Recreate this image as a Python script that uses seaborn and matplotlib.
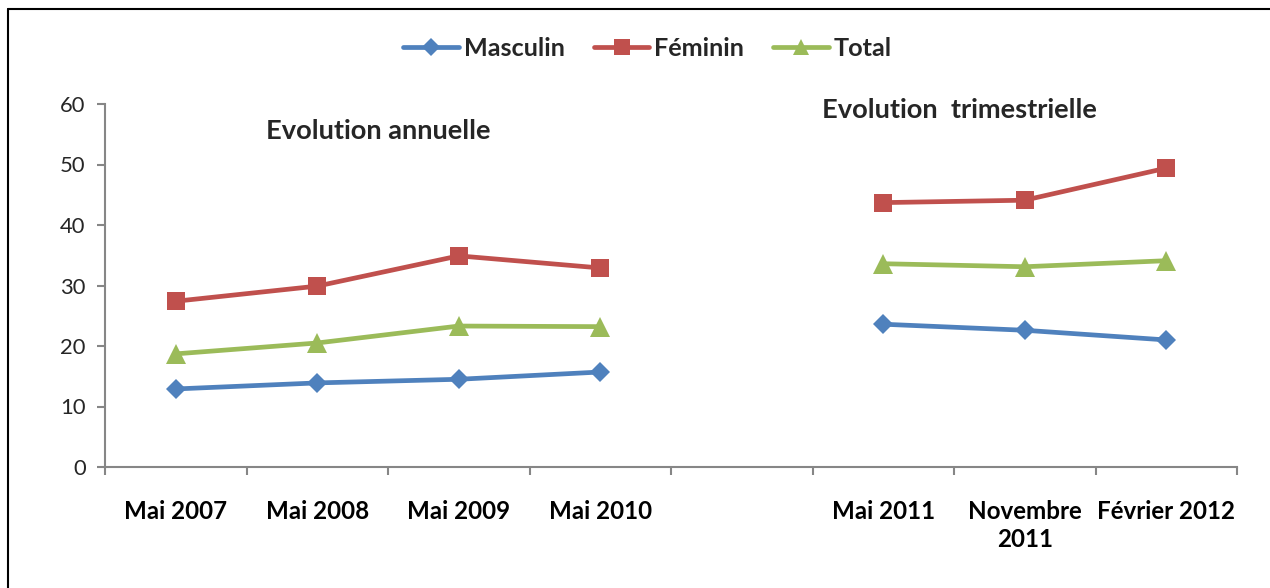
import numpy as np
import pandas as pd
import matplotlib
matplotlib.use("Agg")
import matplotlib.pyplot as plt
from matplotlib.lines import Line2D
import seaborn as sns

# ─── DATA ───────────────────────────────────────────────────────────────────
categories = ["Mai 2007", "Mai 2008", "Mai 2009", "Mai 2010", "",
              "Mai 2011", "Novembre\n2011", "Février 2012"]
masculin = [12.9, 13.9, 14.5, 15.7, np.nan, 23.6, 22.6, 21.0]
feminin = [27.4, 29.9, 34.9, 32.9, np.nan, 43.7, 44.1, 49.4]
total = [18.7, 20.5, 23.3, 23.2, np.nan, 33.6, 33.1, 34.1]
periodes = ["annuelle"] * 5 + ["trimestrielle"] * 3

SERIES = {"Masculin": masculin, "Féminin": feminin, "Total": total}
COLORS = {"Masculin": "#4F81BD", "Féminin": "#C0504D", "Total": "#9BBB59"}
MARKERS = {"Masculin": "D", "Féminin": "s", "Total": "^"}
MSIZE = {"D": 10.5, "s": 13.5, "^": 14.0}

rows = []
for name, vals in SERIES.items():
    for i, v in enumerate(vals):
        rows.append({"pos": i, "valeur": v, "serie": name, "periode": periodes[i]})
df = pd.DataFrame(rows).dropna()

# ─── STYLE ──────────────────────────────────────────────────────────────────
sns.set_style("white")
plt.rcParams["font.family"] = ["Lato", "DejaVu Sans"]
GRAY = "#868686"

fig = plt.figure(figsize=(12.7, 5.88), dpi=100)
ax = fig.add_axes([105 / 1270, 1 - 467 / 588, (1237 - 105) / 1270, (467 - 104) / 588])

sns.lineplot(data=df, x="pos", y="valeur", hue="serie", style="serie",
             units="periode", estimator=None, palette=COLORS, markers=MARKERS,
             dashes=False, linewidth=3.4, markeredgewidth=0, legend=False,
             sort=True, ax=ax)
for ln in ax.lines:
    m = ln.get_marker()
    if m in MSIZE:
        ln.set_markersize(MSIZE[m])

# axes
ax.set_xlim(-0.5, len(categories) - 0.5)
ax.set_ylim(0, 60)
ax.set_yticks(range(0, 61, 10))
ax.set_xticks(range(len(categories)))
ax.set_xticklabels(categories, fontweight="bold", fontsize=17.4, color="black",
                   linespacing=1.25)
ax.set_xticks(np.arange(-0.5, len(categories), 1), minor=True)
ax.tick_params(axis="x", which="major", bottom=True, length=0, pad=24)
ax.tick_params(axis="x", which="minor", bottom=True, length=6, color=GRAY, width=1.5)
ax.tick_params(axis="y", left=True, length=6, color=GRAY, width=1.5,
               labelsize=15.8, pad=8)
ax.set_xlabel("")
ax.set_ylabel("")
for side in ["top", "right"]:
    ax.spines[side].set_visible(False)
for side in ["left", "bottom"]:
    ax.spines[side].set_color(GRAY)
    ax.spines[side].set_linewidth(1.5)

# annotations
ax.text(1.43, 55.5, "Evolution annuelle", ha="center", va="center",
        fontweight="bold", fontsize=19.6)
ax.text(5.54, 59.0, "Evolution  trimestrielle", ha="center", va="center",
        fontweight="bold", fontsize=19.6)

# legend
handles = [Line2D([], [], color=COLORS[n], marker=MARKERS[n], linewidth=3.4,
                  markersize=MSIZE[MARKERS[n]] * 0.85, markeredgewidth=0)
           for n in SERIES]
fig.legend(handles, list(SERIES), loc="center", bbox_to_anchor=(0.51, 0.917),
           ncol=3, frameon=False, handlelength=2.2, handletextpad=0.2,
           columnspacing=1.15, prop={"weight": "bold", "size": 18.2})

# cadre
fig.add_artist(Line2D([8 / 1270, 1], [1 - 9 / 588, 1 - 9 / 588], color="black", lw=1.5))
fig.add_artist(Line2D([8 / 1270, 8 / 1270], [0, 1 - 9 / 588], color="black", lw=1.5))

fig.savefig("out.png", dpi=100)
plt.close(fig)
